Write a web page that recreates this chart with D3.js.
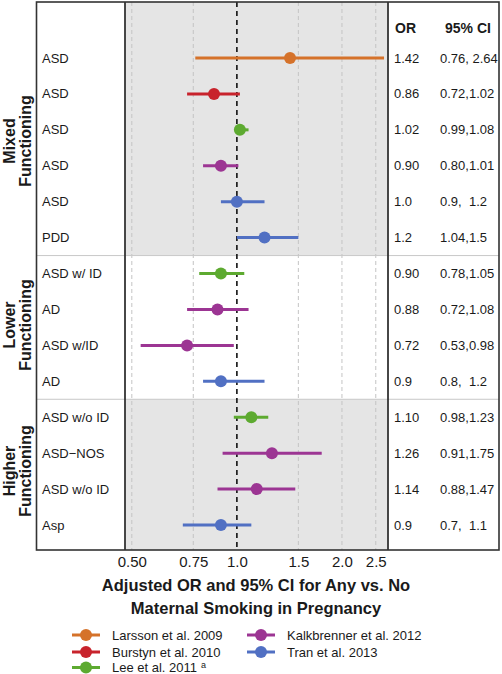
<!DOCTYPE html>
<html>
<head>
<meta charset="utf-8">
<script src="https://cdn.jsdelivr.net/npm/d3@7"></script>
<style>
  html, body { margin: 0; padding: 0; background: #fff; }
  svg text { font-family: "Liberation Sans", Arial, Helvetica, sans-serif; fill: #1a1a1a; }
</style>
</head>
<body>
<svg id="chart" width="502" height="674"></svg>
<script>
// ---- data ----
const studies = ["Larsson et al. 2009", "Burstyn et al. 2010", "Lee et al. 2011", "Kalkbrenner et al. 2012", "Tran et al. 2013"];
const studyColors = ["#D5722A", "#C8232C", "#5DAA30", "#9C3593", "#5170C3"];
const groups = ["Mixed\nFunctioning", "Lower\nFunctioning", "Higher\nFunctioning"];
const rowGroup = [0, 0, 0, 0, 0, 0, 1, 1, 1, 1, 2, 2, 2, 2];
const rowLabels = ["ASD", "ASD", "ASD", "ASD", "ASD", "PDD", "ASD w/ ID", "AD", "ASD w/ID", "AD", "ASD w/o ID", "ASD\u2212NOS", "ASD w/o ID", "Asp"];
const rowStudy = [0, 1, 2, 3, 4, 4, 2, 3, 3, 4, 2, 3, 3, 4];
const orValues = [1.42, 0.86, 1.02, 0.90, 1.0, 1.2, 0.90, 0.88, 0.72, 0.9, 1.10, 1.26, 1.14, 0.9];
const ciLower = [0.76, 0.72, 0.99, 0.80, 0.9, 1.0, 0.78, 0.72, 0.53, 0.8, 0.98, 0.91, 0.88, 0.7];
const ciUpper = [2.64, 1.02, 1.08, 1.01, 1.2, 1.5, 1.05, 1.08, 0.98, 1.2, 1.23, 1.75, 1.47, 1.1];
const orText = ["1.42", "0.86", "1.02", "0.90", "1.0", "1.2", "0.90", "0.88", "0.72", "0.9", "1.10", "1.26", "1.14", "0.9"];
const ciText = ["0.76, 2.64", "0.72,1.02", "0.99,1.08", "0.80,1.01", "0.9,  1.2", "1.04,1.5", "0.78,1.05", "0.72,1.08", "0.53,0.98", "0.8,  1.2", "0.98,1.23", "0.91,1.75", "0.88,1.47", "0.7,  1.1"];
const tickValues = [0.5, 0.75, 1.0, 1.5, 2.0, 2.5];
const tickLabels = ["0.50", "0.75", "1.0", "1.5", "2.0", "2.5"];
const axisTitle = ["Adjusted OR and 95% CI for Any vs. No", "Maternal Smoking in Pregnancy"];

// ---- layout ----
const svg = d3.select("#chart");
const boxL = 36.5, boxR = 499, boxT = 2, boxB = 550;
const plotL = 125, plotR = 388;
const x = d3.scaleLog().domain([0.478, 2.71]).range([plotL, plotR]);
const y = d3.scaleLinear().domain([0, 13]).range([58, 525]);
const groupBounds = [[boxT, y(5.5)], [y(5.5), y(9.5)], [y(9.5), boxB]];
const groupLabelY = [141, 325, 471];

// backgrounds
svg.append("rect").attr("x", boxL).attr("y", boxT).attr("width", boxR - boxL).attr("height", boxB - boxT).attr("fill", "#fff");
svg.selectAll("rect.gbg").data(groupBounds).join("rect")
  .attr("class", "gbg")
  .attr("x", plotL).attr("width", plotR - plotL)
  .attr("y", d => d[0]).attr("height", d => d[1] - d[0])
  .attr("fill", (d, i) => i === 1 ? "#fff" : "#E5E5E5");

// grid lines
svg.selectAll("line.grid").data(tickValues.filter(v => v !== 1)).join("line")
  .attr("class", "grid")
  .attr("x1", d => x(d)).attr("x2", d => x(d))
  .attr("y1", boxT).attr("y2", boxB)
  .attr("stroke", "#C4C4C4").attr("stroke-width", 1).attr("stroke-dasharray", "4,3");

// group separators
svg.selectAll("line.sep").data([y(5.5), y(9.5)]).join("line")
  .attr("class", "sep")
  .attr("x1", boxL).attr("x2", boxR)
  .attr("y1", d => d).attr("y2", d => d)
  .attr("stroke", "#C8C8C8").attr("stroke-width", 1);

// reference line at 1
svg.append("line")
  .attr("x1", x(1)).attr("x2", x(1)).attr("y1", boxT).attr("y2", boxB)
  .attr("stroke", "#111").attr("stroke-width", 1.6).attr("stroke-dasharray", "5,4");

// CI lines and points
const rows = d3.range(orValues.length);
svg.selectAll("line.ci").data(rows).join("line")
  .attr("class", "ci")
  .attr("x1", i => x(ciLower[i])).attr("x2", i => x(ciUpper[i]))
  .attr("y1", i => y(i)).attr("y2", i => y(i))
  .attr("stroke", i => studyColors[rowStudy[i]]).attr("stroke-width", 3);
svg.selectAll("circle.pt").data(rows).join("circle")
  .attr("class", "pt")
  .attr("cx", i => x(orValues[i])).attr("cy", i => y(i)).attr("r", 6)
  .attr("fill", i => studyColors[rowStudy[i]]);

// borders
const bc = "#333";
svg.append("rect").attr("x", boxL).attr("y", boxT).attr("width", boxR - boxL).attr("height", boxB - boxT)
  .attr("fill", "none").attr("stroke", bc).attr("stroke-width", 1.6);
[plotL, plotR].forEach(px => svg.append("line").attr("x1", px).attr("x2", px).attr("y1", boxT).attr("y2", boxB)
  .attr("stroke", bc).attr("stroke-width", 1.8));

// row labels
svg.selectAll("text.rl").data(rows).join("text")
  .attr("class", "rl")
  .attr("x", 42).attr("y", i => y(i)).attr("dy", "0.35em")
  .attr("font-size", 13).text(i => rowLabels[i]);

// table
svg.append("text").attr("x", 395).attr("y", 28).attr("dy", "0.35em").attr("font-size", 14).attr("font-weight", "bold").text("OR");
svg.append("text").attr("x", 468).attr("y", 28).attr("dy", "0.35em").attr("font-size", 14).attr("font-weight", "bold").attr("text-anchor", "middle").text("95% CI");
svg.selectAll("text.ort").data(rows).join("text")
  .attr("class", "ort")
  .attr("x", 394).attr("y", i => y(i)).attr("dy", "0.35em")
  .attr("font-size", 13).text(i => orText[i]);
svg.selectAll("text.cit").data(rows).join("text")
  .attr("class", "cit")
  .attr("x", 440).attr("y", i => y(i)).attr("dy", "0.35em")
  .attr("font-size", 13).style("white-space", "pre").text(i => ciText[i]);

// group labels (rotated)
groups.forEach((g, gi) => {
  const t = svg.append("text")
    .attr("transform", `translate(0,${groupLabelY[gi]}) rotate(-90)`)
    .attr("text-anchor", "middle").attr("font-size", 16).attr("font-weight", "bold");
  g.split("\n").forEach((line, li) => {
    t.append("tspan").attr("x", 0).attr("y", li === 0 ? 15 : 30.5).text(line);
  });
});

// x axis
const axis = d3.axisBottom(x).tickValues(tickValues).tickSize(0).tickPadding(0)
  .tickFormat((d, i) => tickLabels[i]);
const ag = svg.append("g").attr("transform", `translate(0,${boxB})`).call(axis);
ag.select(".domain").remove();
ag.selectAll("text").attr("font-size", 15).attr("dy", null).attr("y", 17)
  .style("font-family", "'Liberation Sans', Arial, sans-serif").attr("fill", "#1a1a1a");

// axis title
axisTitle.forEach((t, i) => {
  svg.append("text").attr("x", 256).attr("y", 585 + i * 23.5).attr("dy", "0.35em")
    .attr("text-anchor", "middle").attr("font-size", 16.5).attr("font-weight", "bold").text(t);
});

// legend
const legPos = [[86, 635], [86, 652], [86, 667.5], [261, 635], [261, 652]];
studies.forEach((s, i) => {
  const [cx, cy] = legPos[i];
  const g = svg.append("g");
  g.append("line").attr("x1", cx - 14).attr("x2", cx + 14).attr("y1", cy).attr("y2", cy)
    .attr("stroke", studyColors[i]).attr("stroke-width", 3);
  g.append("circle").attr("cx", cx).attr("cy", cy).attr("r", 6).attr("fill", studyColors[i]);
  const t = g.append("text").attr("x", cx + 26).attr("y", cy).attr("dy", "0.35em").attr("font-size", 13).text(s);
  if (i === 2) {
    t.append("tspan").attr("dx", 4).attr("dy", "-0.45em").attr("font-size", 9).text("a");
  }
});
</script>
</body>
</html>
